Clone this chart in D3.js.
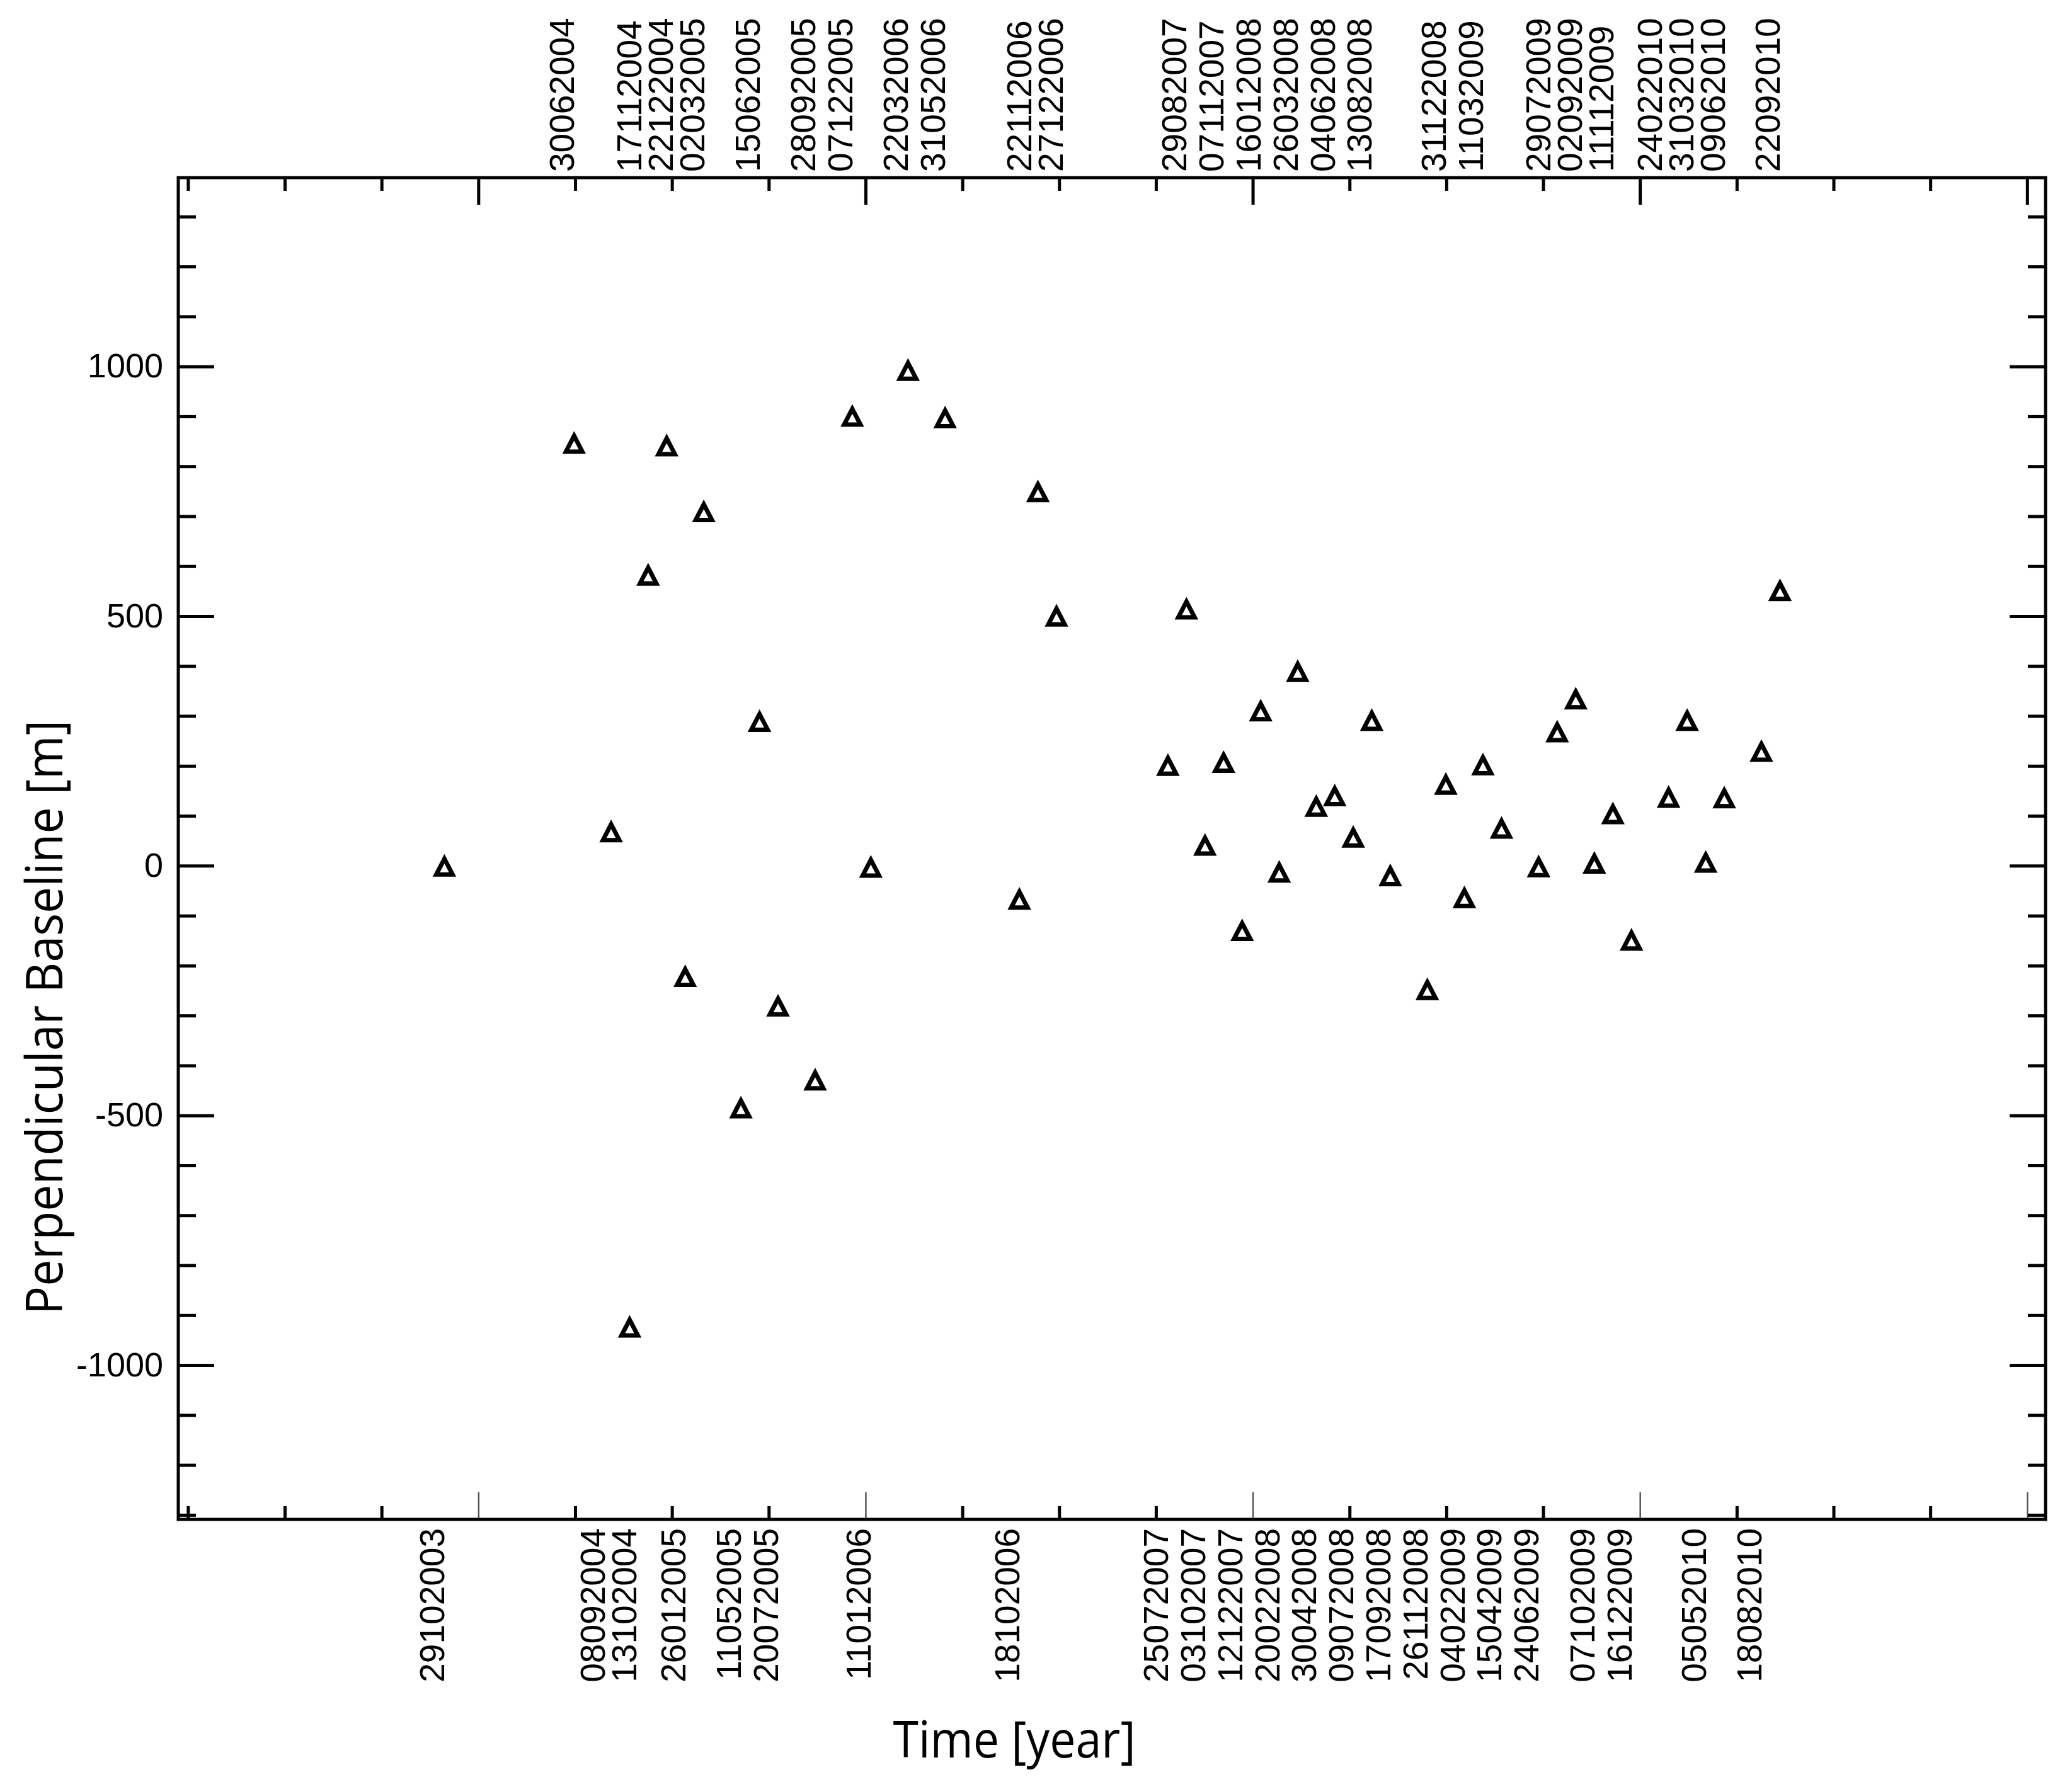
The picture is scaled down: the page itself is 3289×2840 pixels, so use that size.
<!DOCTYPE html>
<html>
<head>
<meta charset="utf-8">
<script src="https://cdn.jsdelivr.net/npm/d3@7"></script>
<style>
  body { margin: 0; background: #fff; }
  svg { display: block; }
</style>
</head>
<body>
<div id="chart"></div>
<script>
// Acquisition dates (DDMMYYYY) and perpendicular baselines [m]
const acquisitionDates = [
    "29102003", "30062004", "08092004", "13102004", "17112004", "22122004", "26012005",
    "02032005", "11052005", "15062005", "20072005", "28092005", "07122005", "11012006",
    "22032006", "31052006", "18102006", "22112006", "27122006", "25072007", "29082007",
    "03102007", "07112007", "12122007", "16012008", "20022008", "26032008", "30042008",
    "04062008", "09072008", "13082008", "17092008", "26112008", "31122008", "04022009",
    "11032009", "15042009", "24062009", "29072009", "02092009", "07102009", "11112009",
    "16122009", "24022010", "31032010", "05052010", "09062010", "18082010", "22092010"
];
const baselines = [
    0, 847, 69, -923, 583, 842, -221,
    710, -484, 290, -280, -428, 901, -2,
    993, 898, -66, 750, 501, 202, 515,
    42, 208, -129, 311, -12, 390, 120,
    141, 58, 292, -19, -247, 164, -63,
    203, 76, -1, 269, 335, 6, 105,
    -148, 138, 292, 8, 137, 230, 552
];

// which dates are written above the plot (the rest go below)
const topLabelDates = [
    "30062004", "17112004", "22122004", "02032005", "15062005", "28092005", "07122005",
    "22032006", "31052006", "22112006", "27122006", "29082007", "07112007", "16012008",
    "26032008", "04062008", "13082008", "31122008", "11032009", "29072009", "02092009",
    "11112009", "24022010", "31032010", "09062010", "22092010"
];
const bottomLabelDates = [
    "29102003", "08092004", "13102004", "26012005", "11052005", "20072005", "11012006",
    "18102006", "25072007", "03102007", "12122007", "20022008", "30042008", "09072008",
    "17092008", "26112008", "04022009", "15042009", "24062009", "07102009", "16122009",
    "05052010", "18082010"
];

// axis settings
const yTickLabels = [-1000, -500, 0, 500, 1000];
const xRange = [2002.45, 2012.095];
const yRange = [-1309, 1378];

const width = 3289, height = 2840;
const margin = {top: 282, right: 42, bottom: 428, left: 283};

// DDMMYYYY -> decimal year
function decYear(s) {
    const d = +s.slice(0, 2), m = +s.slice(2, 4), y = +s.slice(4);
    const start = Date.UTC(y, 0, 1), end = Date.UTC(y + 1, 0, 1);
    return y + (Date.UTC(y, m - 1, d) - start) / (end - start);
}

const points = acquisitionDates.map((d, i) => ({date: d, t: decYear(d), b: baselines[i]}));

const svg = d3.select("#chart").append("svg")
    .attr("width", width)
    .attr("height", height);

const x = d3.scaleLinear().domain(xRange).range([margin.left, width - margin.right]);
const y = d3.scaleLinear().domain(yRange).range([height - margin.bottom, margin.top]);

const x0 = margin.left, x1 = width - margin.right;
const y0 = margin.top, y1 = height - margin.bottom;

// tick positions
const xMajor = d3.range(2004, 2012.01, 2);
const xMinor = d3.range(2002.5, 2012.01, 0.5).filter(v => !xMajor.includes(v));
const yMinor = d3.range(-1300, 1301, 100).filter(v => !yTickLabels.includes(v));

function styleTicks(g, w, color) {
    g.select(".domain").remove();
    g.selectAll(".tick line").attr("stroke", color).attr("stroke-width", w);
}

// bottom axis
svg.append("g").attr("transform", `translate(0,${y1})`)
    .call(d3.axisBottom(x).tickValues(xMinor).tickSize(-21).tickFormat(""))
    .call(g => styleTicks(g, 5, "#000"));
svg.append("g").attr("transform", `translate(0,${y1})`)
    .call(d3.axisBottom(x).tickValues(xMajor).tickSize(-43).tickFormat(""))
    .call(g => styleTicks(g, 2.5, "#555"));

// top axis
svg.append("g").attr("transform", `translate(0,${y0})`)
    .call(d3.axisTop(x).tickValues(xMinor).tickSize(-21).tickFormat(""))
    .call(g => styleTicks(g, 5, "#000"));
svg.append("g").attr("transform", `translate(0,${y0})`)
    .call(d3.axisTop(x).tickValues(xMajor).tickSize(-43).tickFormat(""))
    .call(g => styleTicks(g, 5, "#000"));

// left axis
svg.append("g").attr("transform", `translate(${x0},0)`)
    .call(d3.axisLeft(y).tickValues(yMinor).tickSize(-28).tickFormat(""))
    .call(g => styleTicks(g, 5, "#000"));
svg.append("g").attr("transform", `translate(${x0},0)`)
    .call(d3.axisLeft(y).tickValues(yTickLabels).tickSize(-57).tickPadding(24)
        .tickFormat(d => String(d)))
    .call(g => styleTicks(g, 5, "#000"))
    .call(g => g.selectAll(".tick text")
        .attr("font-family", "'Liberation Sans', Arial, Helvetica, sans-serif")
        .attr("font-size", 54)
        .attr("fill", "#000"));

// right axis
svg.append("g").attr("transform", `translate(${x1},0)`)
    .call(d3.axisRight(y).tickValues(yMinor).tickSize(-28).tickFormat(""))
    .call(g => styleTicks(g, 5, "#000"));
svg.append("g").attr("transform", `translate(${x1},0)`)
    .call(d3.axisRight(y).tickValues(yTickLabels).tickSize(-57).tickFormat(""))
    .call(g => styleTicks(g, 5, "#000"));

// frame
svg.append("rect")
    .attr("x", x0).attr("y", y0)
    .attr("width", x1 - x0).attr("height", y1 - y0)
    .attr("fill", "none")
    .attr("stroke", "#000")
    .attr("stroke-width", 5);

// triangles
const tri = "M0,-11L13,14L-13,14Z";
svg.append("g")
    .selectAll("path")
    .data(points)
    .enter()
    .append("path")
    .attr("d", tri)
    .attr("transform", d => `translate(${x(d.t)},${y(d.b)})`)
    .attr("fill", "none")
    .attr("stroke", "#000")
    .attr("stroke-width", 7);

// spread labels that would overlap
function spread(list, minGap) {
    list.sort((a, b) => a.px - b.px);
    for (let it = 0; it < 50; it++) {
        let moved = false;
        for (let i = 1; i < list.length; i++) {
            const gap = list[i].px - list[i - 1].px;
            if (gap < minGap) {
                const push = (minGap - gap) / 2;
                list[i - 1].px -= push;
                list[i].px += push;
                moved = true;
            }
        }
        if (!moved) break;
    }
    return list;
}

const topLabels = spread(points.filter(p => topLabelDates.includes(p.date))
    .map(p => ({date: p.date, px: x(p.t)})), 50);
const bottomLabels = spread(points.filter(p => bottomLabelDates.includes(p.date))
    .map(p => ({date: p.date, px: x(p.t)})), 50);

const labelFont = "'Liberation Sans', Arial, Helvetica, sans-serif";

svg.append("g")
    .selectAll("text")
    .data(topLabels)
    .enter()
    .append("text")
    .attr("transform", d => `translate(${d.px},${y0 - 9}) rotate(-90)`)
    .attr("text-anchor", "start")
    .attr("font-family", labelFont)
    .attr("font-size", 55)
    .text(d => d.date);

svg.append("g")
    .selectAll("text")
    .data(bottomLabels)
    .enter()
    .append("text")
    .attr("transform", d => `translate(${d.px},${y1 + 14}) rotate(-90)`)
    .attr("text-anchor", "end")
    .attr("font-family", labelFont)
    .attr("font-size", 55)
    .text(d => d.date);

// axis titles
const titleFont = "'Open Sans', 'Noto Sans', sans-serif";

svg.append("text")
    .attr("x", 1610)
    .attr("y", 2790)
    .attr("text-anchor", "middle")
    .attr("font-family", titleFont)
    .attr("font-size", 80)
    .attr("textLength", 385)
    .attr("lengthAdjust", "spacingAndGlyphs")
    .text("Time [year]");

svg.append("text")
    .attr("transform", "translate(99,1615) rotate(-90)")
    .attr("text-anchor", "middle")
    .attr("font-family", titleFont)
    .attr("font-size", 80)
    .attr("textLength", 944)
    .attr("lengthAdjust", "spacingAndGlyphs")
    .text("Perpendicular Baseline [m]");
</script>
</body>
</html>
